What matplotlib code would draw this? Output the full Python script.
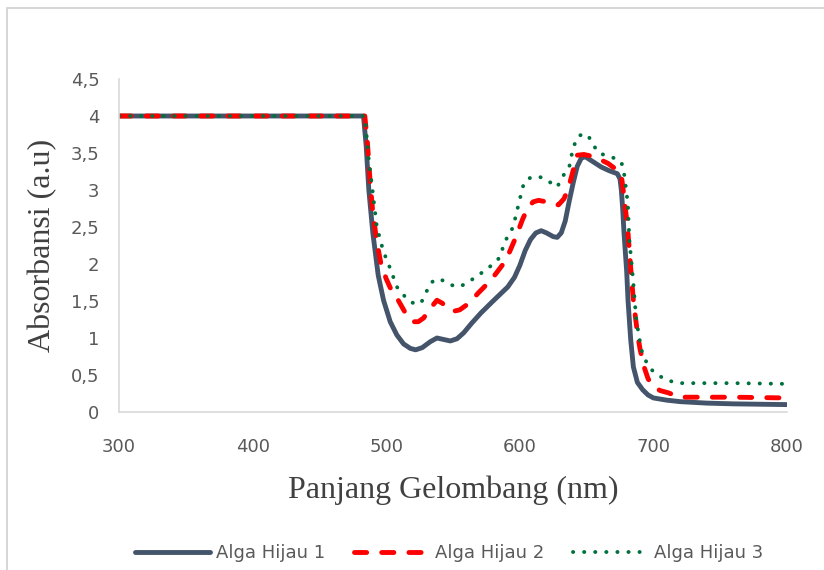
import numpy as np
import matplotlib.pyplot as plt
from matplotlib.patches import Rectangle

# absorbance spectra of the three green algae samples
wl_1 = [300, 400, 483, 485, 487, 490, 494, 498, 503, 508, 513, 518, 522, 527, 533,
        538, 543, 548, 553, 558, 564, 571, 580, 591, 596, 600, 604, 608, 612, 616,
        620, 625, 628, 631, 634, 637, 640, 643, 646, 649, 655, 661, 667, 673, 675,
        676, 677, 678, 680, 681, 683, 685, 688, 692, 696, 700, 710, 720, 740, 760,
        780, 800]
abs_1 = [4.0, 4.0, 4.0, 3.6, 3.0, 2.42, 1.85, 1.51, 1.22, 1.04, 0.92, 0.86, 0.84, 0.87, 0.95,
         1.0, 0.98, 0.96, 0.99, 1.07, 1.2, 1.34, 1.5, 1.69, 1.82, 1.98, 2.18, 2.33, 2.42, 2.45,
         2.42, 2.37, 2.36, 2.42, 2.58, 2.85, 3.1, 3.32, 3.43, 3.45, 3.38, 3.31, 3.26, 3.22, 3.15,
         3.0, 2.75, 2.42, 1.9, 1.51, 0.98, 0.61, 0.4, 0.3, 0.23, 0.19, 0.16, 0.14, 0.12, 0.11,
         0.105, 0.1]

wl_2 = [300, 400, 484, 486, 488, 490, 493, 496, 500, 503, 509, 514, 520, 524, 528,
        533, 538, 542, 546, 550, 555, 562, 569, 575, 580, 588, 592, 597, 602, 606,
        610, 614, 620, 626, 629, 633, 636, 639, 643, 648, 653, 658, 666, 672, 676,
        678, 680, 681, 683, 685, 688, 690, 693, 696, 700, 705, 711, 720, 760, 800]
abs_2 = [4.0, 4.0, 4.0, 3.63, 3.1, 2.69, 2.3, 2.01, 1.8, 1.68, 1.51, 1.35, 1.22, 1.22, 1.27,
         1.4, 1.51, 1.47, 1.4, 1.36, 1.38, 1.47, 1.61, 1.72, 1.82, 2.01, 2.15, 2.36, 2.6, 2.76,
         2.84, 2.86, 2.84, 2.8, 2.8, 2.88, 3.0, 3.2, 3.47, 3.48, 3.46, 3.43, 3.36, 3.28, 3.2,
         2.91, 2.6, 2.42, 1.95, 1.51, 1.07, 0.85, 0.61, 0.45, 0.34, 0.29, 0.26, 0.2, 0.2, 0.19]

wl_3 = [300, 400, 484, 486, 487, 490, 493, 497, 500, 503, 508, 513, 518, 522, 526,
        530, 533, 537, 540, 544, 548, 554, 558, 562, 568, 574, 580, 584, 586, 588,
        592, 595, 597, 599, 601, 603, 606, 610, 614, 618, 623, 628, 632, 635, 637,
        640, 644, 648, 651, 655, 659, 664, 668, 672, 676, 678, 680, 681, 682, 684,
        685, 687, 689, 691, 694, 698, 704, 712, 720, 760, 800]
abs_3 = [4.0, 4.0, 4.0, 3.6, 3.4, 2.96, 2.5, 2.23, 2.07, 1.94, 1.69, 1.58, 1.49, 1.46, 1.47,
         1.62, 1.74, 1.79, 1.8, 1.76, 1.72, 1.69, 1.72, 1.76, 1.84, 1.91, 2.0, 2.07, 2.12, 2.28,
         2.4, 2.5, 2.65, 2.8, 2.95, 3.09, 3.15, 3.18, 3.18, 3.16, 3.1, 3.04, 3.18, 3.26, 3.31,
         3.58, 3.73, 3.76, 3.74, 3.61, 3.5, 3.47, 3.45, 3.42, 3.38, 3.23, 2.95, 2.77, 2.32, 1.95,
         1.74, 1.28, 1.05, 0.84, 0.7, 0.58, 0.49, 0.42, 0.39, 0.39, 0.38]

labels = ['Alga Hijau 1', 'Alga Hijau 2', 'Alga Hijau 3']
x_ticks = [300, 400, 500, 600, 700, 800]
y_ticks = [0, 0.5, 1, 1.5, 2, 2.5, 3, 3.5, 4, 4.5]

sans = ['Liberation Sans Narrow', 'DejaVu Sans']
serif = ['Liberation Serif', 'DejaVu Serif']
txt = '#595959'

fig = plt.figure(figsize=(8.24, 5.70), dpi=100)
# chart frame
fig.add_artist(Rectangle((7 / 824, -0.1), 1.2, 1 - 8 / 570 + 0.1,
                         transform=fig.transFigure, fill=False,
                         edgecolor='#d0d0d0', lw=1.2))
ax = fig.add_axes([119 / 824, 1 - 412 / 570, (787 - 119) / 824, (412 - 79) / 570])

ax.plot(wl_1, abs_1, color='#44546a', lw=3.5, solid_capstyle='round',
        solid_joinstyle='round', label=labels[0])
ax.plot(wl_2, abs_2, color='#ff0000', lw=3.5, dashes=(2.5, 3.1),
        dash_capstyle='round', dash_joinstyle='round', label=labels[1])
ax.plot(wl_3, abs_3, color='#00703c', lw=2.8, dashes=(0.05, 2.8),
        dash_capstyle='round', dash_joinstyle='round', label=labels[2])

ax.set_xlim(300, 800)
ax.set_ylim(0, 4.5)
ax.set_xticks(x_ticks)
ax.set_yticks(y_ticks)
ax.set_xticklabels([str(v) for v in x_ticks])
ax.set_yticklabels([('%g' % v).replace('.', ',') for v in y_ticks])
ax.tick_params(length=0, colors=txt, labelsize=13)
ax.tick_params(axis='x', pad=19)
ax.tick_params(axis='y', pad=14)
for lab in ax.get_xticklabels() + ax.get_yticklabels():
    lab.set_family(sans)

for s in ['top', 'right']:
    ax.spines[s].set_visible(False)
for s in ['left', 'bottom']:
    ax.spines[s].set_color('#d9d9d9')
    ax.spines[s].set_linewidth(1.2)

ax.set_xlabel('Panjang Gelombang (nm)', family=serif, fontsize=23, color='#404040', labelpad=14)
ax.set_ylabel('Absorbansi (a.u)', family=serif, fontsize=23, color='#404040', labelpad=10)

leg = fig.legend(loc='center', bbox_to_anchor=(0.545, 1 - 553 / 570), ncol=3,
                 frameon=False, handlelength=4.2, columnspacing=1.6, handletextpad=0.3,
                 prop={'family': sans, 'size': 13})
for t in leg.get_texts():
    t.set_color(txt)

fig.savefig('out.png', dpi=100)
